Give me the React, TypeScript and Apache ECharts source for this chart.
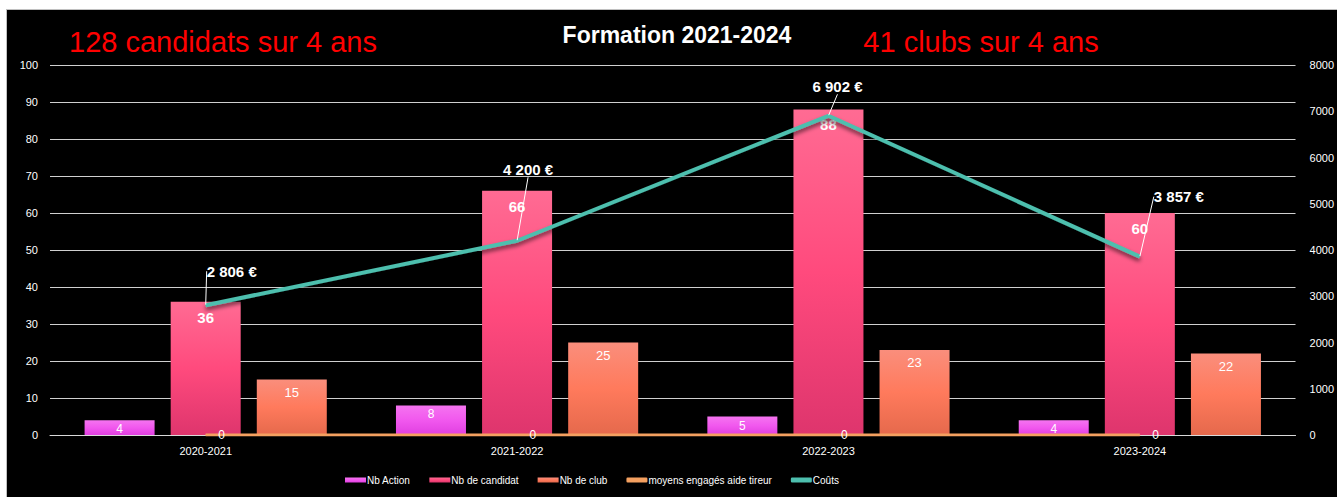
import React, { useEffect, useRef } from "react";
import * as echarts from "echarts";

const categories = ["2020-2021", "2021-2022", "2022-2023", "2023-2024"];
const nbAction = [4, 8, 5, 4];
const nbCandidat = [36, 66, 88, 60];
const nbClub = [15, 25, 23, 22];
const moyens = [0, 0, 0, 0];
const couts = [2806, 4200, 6902, 3857];
const coutLabelOffsets = [
  [26, -34],
  [11, -71],
  [9, -29],
  [39, -60],
];

const FONT = "Liberation Sans";

function fmtEuro(v: number) {
  const s = String(Math.round(v));
  return s.replace(/\B(?=(\d{3})+(?!\d))/g, " ") + " €";
}

function vGrad(top: string, mid: string, bottom: string) {
  return new echarts.graphic.LinearGradient(0, 0, 0, 1, [
    { offset: 0, color: top },
    { offset: 0.5, color: mid },
    { offset: 1, color: bottom },
  ]);
}

export default function App() {
  const ref = useRef<HTMLDivElement>(null);
  useEffect(() => {
    if (!ref.current) return;
    const chart = echarts.init(ref.current, null, { renderer: "svg" });
    chart.setOption({
      animation: false,
      backgroundColor: "#000000",
      textStyle: { fontFamily: FONT },
      graphic: [
        {
          type: "text",
          x: 670,
          y: 25,
          style: {
            text: "Formation 2021-2024",
            fill: "#ffffff",
            font: `bold 23px "${FONT}"`,
            align: "center",
            verticalAlign: "middle",
          },
        },
        {
          type: "text",
          x: 216,
          y: 32,
          style: {
            text: "128 candidats sur 4 ans",
            fill: "#ff0000",
            font: `29px "${FONT}"`,
            align: "center",
            verticalAlign: "middle",
          },
        },
        {
          type: "text",
          x: 974,
          y: 32,
          style: {
            text: "41 clubs sur 4 ans",
            fill: "#ff0000",
            font: `29px "${FONT}"`,
            align: "center",
            verticalAlign: "middle",
          },
        },
      ],
      legend: {
        left: 338,
        top: 465,
        padding: 0,
        itemWidth: 21,
        itemHeight: 5,
        itemGap: 19,
        textStyle: {
          color: "#ffffff",
          fontSize: 10,
          fontFamily: FONT,
          padding: [0, 0, 0, -4],
        },
        data: [
          { name: "Nb Action", icon: "rect" },
          { name: "Nb de candidat", icon: "rect" },
          { name: "Nb de club", icon: "rect" },
          { name: "moyens engagés aide tireur", icon: "roundRect" },
          { name: "Coûts", icon: "roundRect" },
        ],
      },
      grid: { left: 43, right: 41, top: 55, bottom: 62 },
      xAxis: {
        type: "category",
        data: categories,
        axisLine: { show: true, lineStyle: { color: "#d9d9d9", width: 1 } },
        axisTick: { show: false },
        axisLabel: { color: "#ffffff", fontSize: 11, margin: 10 },
      },
      yAxis: [
        {
          type: "value",
          min: 0,
          max: 100,
          interval: 10,
          axisLine: { show: false },
          axisTick: { show: false },
          axisLabel: { color: "#ffffff", fontSize: 11, margin: 12 },
          splitLine: { show: true, lineStyle: { color: "#d0d0d0", width: 1 } },
        },
        {
          type: "value",
          min: 0,
          max: 8000,
          interval: 1000,
          axisLine: { show: false },
          axisTick: { show: false },
          axisLabel: {
            color: "#ffffff",
            fontSize: 11,
            margin: 14,
            formatter: (v: number) => String(v),
          },
          splitLine: { show: false },
        },
      ],
      series: [
        {
          name: "Nb Action",
          type: "bar",
          data: nbAction,
          barWidth: 70,
          barGap: "23%",
          itemStyle: { color: vGrad("#f574f0", "#f158ee", "#e03fe0") },
          label: {
            show: true,
            position: "insideTop",
            distance: 3,
            color: "#ffffff",
            fontSize: 12,
          },
        },
        {
          name: "Nb de candidat",
          type: "bar",
          data: nbCandidat,
          barWidth: 70,
          barGap: "23%",
          itemStyle: { color: vGrad("#ff6b93", "#ff4a7d", "#de356d") },
          label: {
            show: true,
            position: "insideTop",
            distance: 8,
            color: "#ffffff",
            fontSize: 15,
            fontWeight: "bold",
          },
        },
        {
          name: "Nb de club",
          type: "bar",
          data: nbClub,
          barWidth: 70,
          barGap: "23%",
          itemStyle: { color: vGrad("#fa8e7c", "#ff7a5c", "#e5694c") },
          label: {
            show: true,
            position: "insideTop",
            distance: 6,
            color: "#ffffff",
            fontSize: 13,
          },
        },
        {
          name: "moyens engagés aide tireur",
          type: "line",
          data: moyens,
          symbol: "circle",
          symbolSize: 1,
          showSymbol: true,
          z: 3,
          lineStyle: { color: "#f4a060", width: 3 },
          itemStyle: { color: "#f4a060" },
          label: {
            show: true,
            position: "right",
            distance: 12,
            color: "#ffffff",
            fontSize: 12,
          },
        },
        {
          name: "Coûts",
          type: "line",
          yAxisIndex: 1,
          data: couts,
          symbol: "circle",
          symbolSize: 1,
          showSymbol: true,
          z: 5,
          lineStyle: {
            color: "#4dbfae",
            width: 4,
            shadowColor: "rgba(0,0,0,0.6)",
            shadowBlur: 4,
            shadowOffsetY: 3,
          },
          itemStyle: { color: "#4dbfae" },
          label: {
            show: true,
            position: "inside",
            color: "#ffffff",
            fontSize: 15,
            fontWeight: "bold",
            formatter: (p: any) => fmtEuro(p.value),
          },
          labelLayout: (p: any) => ({
            dx: coutLabelOffsets[p.dataIndex][0],
            dy: coutLabelOffsets[p.dataIndex][1],
          }),
          labelLine: {
            show: true,
            lineStyle: { color: "#ffffff", width: 1 },
          },
        },
      ],
    });
    return () => chart.dispose();
  }, []);

  return (
    <div
      style={{
        position: "fixed",
        left: 0,
        top: 0,
        width: 1337,
        height: 497,
        background: "#ffffff",
      }}
    >
      <div
        style={{
          position: "absolute",
          left: 6,
          top: 9,
          width: 1331,
          height: 488,
          borderLeft: "1px solid #c0c0c0",
          borderTop: "1px solid #c0c0c0",
          boxSizing: "border-box",
          background: "#000000",
        }}
      >
        <div ref={ref} style={{ width: 1330, height: 487 }} />
      </div>
    </div>
  );
}
